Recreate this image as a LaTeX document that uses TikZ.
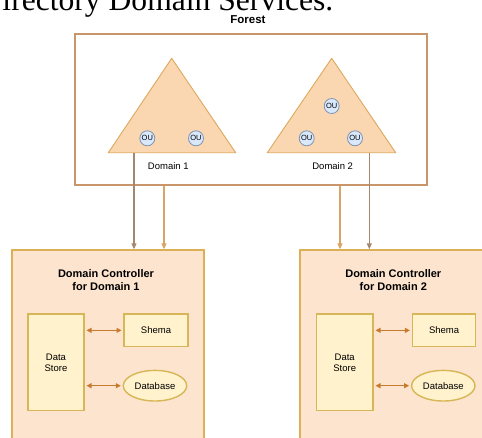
\documentclass[tikz,border=0pt]{standalone}
\usepackage{fontspec}
\setmainfont{Liberation Sans}
\newfontfamily\titleserif{Liberation Serif}
\usetikzlibrary{arrows.meta,shapes.geometric}
\definecolor{framecol}{HTML}{C8966A}
\definecolor{trifill}{HTML}{FAD7B0}
\definecolor{tristroke}{HTML}{DDA85E}
\definecolor{dcfill}{HTML}{FDE4CE}
\definecolor{dcstroke}{HTML}{DDB055}
\definecolor{yfill}{HTML}{FFF2CC}
\definecolor{ystroke}{HTML}{D6B656}
\definecolor{oufill}{HTML}{DAE8FC}
\definecolor{oustroke}{HTML}{7D93B2}
\definecolor{darkarrow}{HTML}{A3876F}
\definecolor{lightarrow}{HTML}{D9A36A}
\definecolor{dblarrow}{HTML}{C97A2C}
\tikzset{
  forestbox/.style={draw=framecol, line width=2pt, rectangle, inner sep=0pt},
  tri/.style={draw=tristroke, fill=trifill, line width=0.9pt, line join=miter},
  ounode/.style={circle, draw=oustroke, fill=oufill, line width=0.8pt, minimum size=15pt, inner sep=0pt, font=\fontsize{7.5}{8}\selectfont},
  domlabel/.style={font=\fontsize{9.5}{11}\selectfont, inner sep=0pt},
  dcbox/.style={rectangle, draw=dcstroke, fill=dcfill, line width=1.6pt, inner sep=0pt, anchor=north west},
  dctitle/.style={font=\bfseries\fontsize{11}{13.4}\selectfont, align=center, inner sep=0pt},
  ybox/.style={rectangle, draw=ystroke, fill=yfill, line width=1.4pt, inner sep=0pt, anchor=north west, align=center, font=\fontsize{9.5}{11}\selectfont},
  yell/.style={ellipse, draw=ystroke, fill=yfill, line width=1.4pt, inner sep=0pt, font=\fontsize{9.5}{11}\selectfont},
  darr/.style={draw=darkarrow, line width=1.1pt, -{Triangle[length=6pt,width=5pt]}},
  larr/.style={draw=lightarrow, line width=1.1pt, -{Triangle[length=6pt,width=5pt]}},
  dbl/.style={draw=dblarrow, line width=1.1pt, {Triangle[length=5pt,width=5pt]}-{Triangle[length=5pt,width=5pt]}, shorten <=1.8pt, shorten >=1.8pt},
}
\begin{document}
\begin{tikzpicture}[x=1pt,y=-1pt]
\useasboundingbox (0,0) rectangle (482,437);
\clip (0,0) rectangle (482,437);
% cut-off heading
\node[anchor=base east, inner sep=0pt, font=\titleserif\fontsize{31.6}{36}\selectfont] (heading) at (333.5,10) {irectory Domain Services.};
% forest
\node[font=\bfseries\fontsize{11.5}{13}\selectfont, inner sep=0pt] (forestlbl) at (248,20) {Forest};
\node[forestbox, minimum width=352pt, minimum height=151.5pt] (forest) at (251,109.25) {};
% triangles
\draw[tri] (108.3,152.7) coordinate (t1l) -- (171.7,58.3) coordinate (t1a) -- (235.7,152.7) coordinate (t1r) -- cycle;
\draw[tri] (267.3,152.7) coordinate (t2l) -- (331.7,58.3) coordinate (t2a) -- (395.7,152.7) coordinate (t2r) -- cycle;
\node[ounode] (ou11) at (147.3,138.3) {OU};
\node[ounode] (ou12) at (196,138.3) {OU};
\node[ounode] (ou21) at (331.7,106) {OU};
\node[ounode] (ou22) at (306.7,138.3) {OU};
\node[ounode] (ou23) at (355,138.3) {OU};
\node[domlabel] (d1lbl) at (168.3,166) {Domain 1};
\node[domlabel] (d2lbl) at (332.7,166) {Domain 2};
\coordinate (o1) at (134,152.7);
\coordinate (o2) at (369.3,152.7);
% domain controllers
\node[dcbox, minimum width=192.3pt, minimum height=200pt] (dc1) at (11,249.3) {};
\node[dcbox, minimum width=192.3pt, minimum height=200pt] (dc2) at (299.3,249.3) {};
\node[dctitle] (dc1t) at (106,280) {Domain Controller\\for Domain 1};
\node[dctitle] (dc2t) at (393.3,280) {Domain Controller\\for Domain 2};
\node[ybox, minimum width=56pt, minimum height=96.7pt] (ds1) at (27.3,313.3) {Data\\Store};
\node[ybox, minimum width=56.6pt, minimum height=96.7pt] (ds2) at (315.7,313.3) {Data\\Store};
\node[ybox, minimum width=64pt, minimum height=32.7pt] (sh1) at (123.3,313.3) {Shema};
\node[ybox, minimum width=63.3pt, minimum height=32.7pt] (sh2) at (411.7,313.3) {Shema};
\node[yell, minimum width=63.4pt, minimum height=30.6pt] (db1) at (155,385.7) {Database};
\node[yell, minimum width=63.4pt, minimum height=30.6pt] (db2) at (443.3,385.7) {Database};
% connectors forest -> DCs
\draw[darr] (o1) -- (o1 |- dc1.north);
\draw[larr] (forest.south -| 164,0) -- (164,0 |- dc1.north);
\draw[larr] (forest.south -| 340,0) -- (340,0 |- dc2.north);
\draw[darr] (o2) -- (o2 |- dc2.north);
% inner arrows
\draw[dbl] (ds1.east |- sh1.west) -- (sh1.west);
\draw[dbl] (ds1.east |- db1.west) -- (db1.west);
\draw[dbl] (ds2.east |- sh2.west) -- (sh2.west);
\draw[dbl] (ds2.east |- db2.west) -- (db2.west);
\end{tikzpicture}
\end{document}
